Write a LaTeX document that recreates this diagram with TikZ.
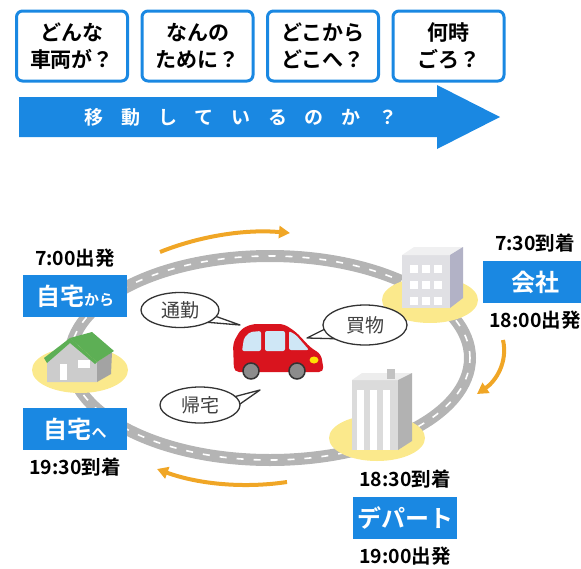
\documentclass[tikz,border=0pt]{standalone}
\usepackage{fontspec}
\setmainfont{Noto Sans CJK JP}[BoldFont={Noto Sans CJK JP Bold}]
\usetikzlibrary{positioning,calc,arrows.meta,shapes.geometric}

\definecolor{mainblue}{HTML}{1A88E2}
\definecolor{roadgray}{HTML}{B4B4B4}
\definecolor{spotyellow}{HTML}{FBE98C}
\definecolor{flowyellow}{HTML}{F0A626}
\definecolor{carred}{HTML}{D9141E}
\definecolor{glass}{HTML}{CFE7F6}
\definecolor{roofgreen}{HTML}{5DAF55}

\begin{document}
\begin{tikzpicture}[x=1pt,y=-1pt,
				qbox/.style={rectangle, rounded corners=6pt, draw=mainblue, line width=3pt, fill=white, minimum width=111pt, minimum height=70pt, align=center, font=\bfseries\fontsize{21}{27}\selectfont},
				placebox/.style={rectangle, fill=mainblue, text=white, minimum width=104pt, minimum height=42pt, inner sep=0pt, font=\bfseries\fontsize{24}{24}\selectfont},
				timelabel/.style={inner sep=0pt, font=\bfseries\fontsize{19.5}{20}\selectfont},
				bubble/.style={ellipse, draw=black!80, line width=1.3pt, fill=white, text=black!75, inner sep=0pt, font=\fontsize{19}{19}\selectfont},
				tail/.style={draw=black!80, line width=1.3pt, fill=white, line join=round},
				road/.style={draw=roadgray, line width=12pt},
				roadmark/.style={draw=white, line width=1.6pt, dash pattern=on 7pt off 10pt},
				flow/.style={draw=flowyellow, line width=4pt, -{Triangle[length=11pt,width=12pt]}},
				spot/.style={fill=spotyellow},
			]
			\useasboundingbox (0,0) rectangle (581,568);

			% question boxes and the big arrow
			\node[qbox] (qcar) at (72,46) {どんな\\車両が？};
			\node[qbox] (qwhy) [right=11.5pt of qcar] {なんの\\ために？};
			\node[qbox] (qwhere) [right=11.5pt of qwhy] {どこから\\どこへ？};
			\node[qbox] (qwhen) [right=11.5pt of qwhere] {何時\\ごろ？};
			\fill[mainblue] (19,97) -- (437,97) -- (437,85) -- (500,117) -- (437,149) -- (437,137) -- (19,137) -- cycle;
			\node[text=white, font=\bfseries\fontsize{19}{19}\selectfont] (banner) at (241,117)
				{移\hspace{0.93em}動\hspace{0.93em}し\hspace{0.93em}て\hspace{0.93em}い\hspace{0.93em}る\hspace{0.93em}の\hspace{0.93em}か\hspace{0.93em}？};

			% ring road
			\draw[road] (270,358) ellipse [x radius=200pt, y radius=102pt];
			\draw[roadmark] (270,358) ellipse [x radius=200pt, y radius=102pt];

			% direction of travel
			\draw[flow] (160,252) .. controls (200,236) and (245,229) .. (290,233);
			\draw[flow] (503,340) .. controls (508,362) and (496,381) .. (477,394);
			\draw[flow] (287,482) .. controls (240,489) and (195,483) .. (157,469);

			% home
			\fill[spot] (80,370) ellipse [x radius=48pt, y radius=23pt];
			\fill[black!20] (47,362) -- (70,342) -- (97,362) -- (97,382) -- (47,382) -- cycle;
			\fill[black!36] (97,362) -- (112,352) -- (111,374) -- (97,382) -- cycle;
			\fill[white] (60,364) rectangle (67,380);
			\fill[white] (78,360) rectangle (90,368);
			\fill[roofgreen] (70,338) -- (92,332) -- (114,351) -- (97,362) -- cycle;
			\fill[roofgreen] (44,358) -- (70,338) -- (97,362) -- (95,364) -- (70,343) -- (47,363) -- cycle;

			% office
			\fill[spot] (430,300) ellipse [x radius=48pt, y radius=23pt];
			\fill[blue!12!black!12] (402,255) rectangle (450,308);
			\fill[blue!6!black!6] (402,255) -- (414,247) -- (463,247) -- (450,255) -- cycle;
			\fill[blue!25!black!30] (450,255) -- (463,247) -- (463,298) -- (450,308) -- cycle;
			\foreach \wx in {410,422,434}
				\foreach \wy in {265,281,297}
					\fill[white] (\wx,\wy) rectangle ++(8,8);

			% department store
			\fill[spot] (377,438) ellipse [x radius=48pt, y radius=23pt];
			\fill[black!14] (352,380) rectangle (398,450);
			\fill[black!7] (352,380) -- (362,373) -- (412,373) -- (398,380) -- cycle;
			\fill[black!30] (398,380) -- (412,373) -- (412,441) -- (398,450) -- cycle;
			\fill[black!24] (387,369) rectangle (395,379);
			\foreach \sx in {357,370,383}
				\fill[white] (\sx,390) rectangle ++(7,60);

			% speech bubbles
			\coordinate (commute) at (180,310);
			\coordinate (shopping) at (365,325);
			\coordinate (return) at (200,405);
			\filldraw[tail] ($(commute)+(18,0)$) -- (240,325) -- ($(commute)+(24,12)$) -- cycle;
			\node[bubble, minimum width=78pt, minimum height=35pt] (commutebub) at (commute) {通勤};
			\filldraw[tail] ($(shopping)+(-28,-2)$) -- (307,338) -- ($(shopping)+(-20,14)$) -- cycle;
			\node[bubble, minimum width=84pt, minimum height=40pt] (shoppingbub) at (shopping) {買物};
			\filldraw[tail] ($(return)+(22,-5)$) -- (260,390) -- ($(return)+(30,6)$) -- cycle;
			\node[bubble, minimum width=80pt, minimum height=36pt] (returnbub) at (return) {帰宅};

			% car
			\fill[carred, rounded corners=5pt] (234,372) -- (233,343) -- (241,329) -- (252,324) -- (284,324) -- (296,332) -- (311,348) -- (321,354) -- (324,372) -- cycle;
			\fill[glass, rounded corners=2pt] (242,351) -- (244,338) -- (250,332) -- (261,331) -- (261,351) -- cycle;
			\fill[glass, rounded corners=2pt] (265,331) rectangle (285,351);
			\fill[glass, rounded corners=2pt] (289,331) -- (296,335) -- (309,350) -- (289,350) -- cycle;
			\fill[yellow!85!orange] (314,360) ellipse [x radius=4.5pt, y radius=3.5pt];
			\foreach \cx in {251,297}
				\filldraw[fill=black!45, draw=black!80, line width=1.5pt] (\cx,371) circle [radius=8pt];

			% stations
			\node[placebox] (homefrom) at (75,296) {自宅{\fontsize{15}{15}\selectfont から}};
			\node[timelabel] (leavehome) [above=7pt of homefrom] {7:00出発};
			\node[placebox] (hometo) at (75,429) {自宅{\fontsize{15}{15}\selectfont へ}};
			\node[timelabel] (arrivehome) [below=7pt of hometo] {19:30到着};
			\node[placebox] (office) at (535,282) {会社};
			\node[timelabel] (arriveoffice) [above=8pt of office] {7:30到着};
			\node[timelabel] (leaveoffice) [below=8pt of office] {18:00出発};
			\node[placebox] (store) at (405,518) {デパート};
			\node[timelabel] (arrivestore) [above=8pt of store] {18:30到着};
			\node[timelabel] (leavestore) [below=8pt of store] {19:00出発};
			\end{tikzpicture}
\end{document}
